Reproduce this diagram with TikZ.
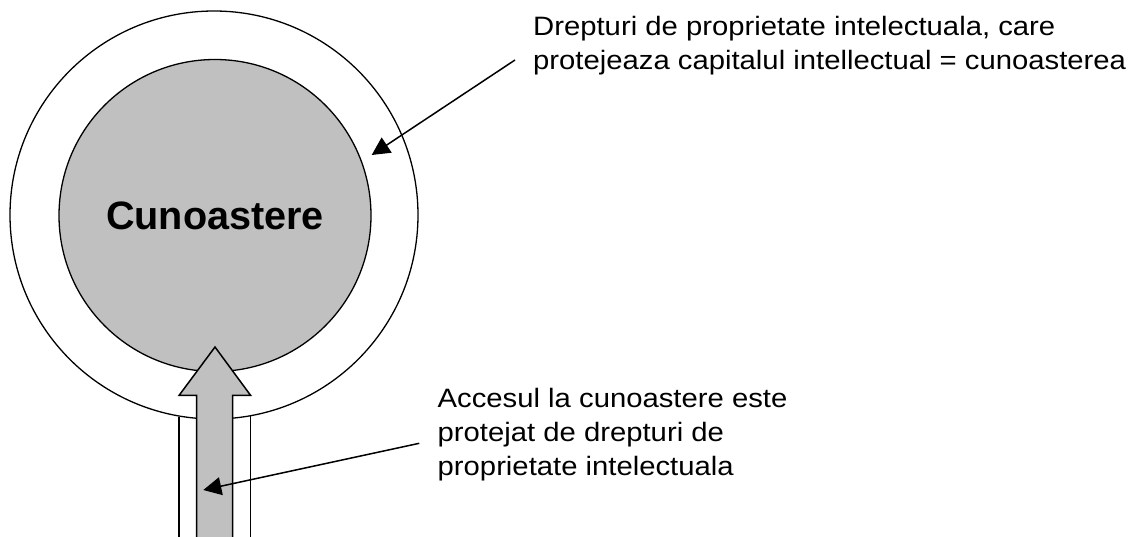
\documentclass[tikz,border=0pt]{standalone}
\usepackage{fontspec}
\setmainfont{Liberation Sans}
\newfontfamily\notefont[FakeStretch=1.1]{Liberation Sans}
\usetikzlibrary{arrows.meta}
\definecolor{coregray}{RGB}{192,192,192}
\tikzset{
    ring/.style={circle, draw, line width=1.3pt, minimum size=408pt, inner sep=0pt},
    core/.style={circle, draw, line width=1.3pt, fill=coregray, minimum size=312pt, inner sep=0pt,
        font=\bfseries\fontsize{39.6}{46}\selectfont},
    note/.style={anchor=base west, inner sep=0pt, align=left,
        font=\notefont\fontsize{26.6}{34.2}\selectfont},
    pointer/.style={line width=1.5pt, -{Triangle[length=18pt,width=18pt]}},
    blockarrow/.style={draw, line width=1.5pt, fill=coregray, line join=miter}
}
\begin{document}
\begin{tikzpicture}[x=1pt,y=1pt,yscale=-1,xscale=1]
    \useasboundingbox (0,0) rectangle (1144,537);
    %Shape: Circle [ring]
    \node[ring] (ring) at (214,215) {};
    %Shape: Circle [core]
    \node[core] (core) at (215,215.5) {Cunoastere};
    %Straight Lines [channel]
    \draw [line width=1.5pt]   (179,417) -- (179,545) ;
    \draw [line width=1.5pt]   (250.7,416) -- (250.7,545) ;
    %Shape: Block Arrow
    \draw [blockarrow] (215,347) -- (250.7,395.5) -- (232.7,395.5) -- (232.7,545)
        -- (196.7,545) -- (196.7,395.5) -- (179,395.5) -- cycle ;

    % Text Node (base = last line)
    \node[note] (rightsnote) at (533,69.9) {Drepturi de proprietate intelectuala, care\\protejeaza capitalul intellectual = cunoasterea};
    % Text Node (base = last line)
    \node[note] (accessnote) at (437.5,475.7) {Accesul la cunoastere este\\protejat de drepturi de\\proprietate intelectuala};

    %Straight Lines [pointers]
    \coordinate (rightsfoot) at (515,60);
    \coordinate (ringtip) at (371.7,155);
    \draw [pointer] (rightsfoot) -- (ringtip) ;
    \coordinate (accessfoot) at (419.3,443.3);
    \coordinate (shafttip) at (203.3,490);
    \draw [pointer] (accessfoot) -- (shafttip) ;
\end{tikzpicture}
\end{document}
